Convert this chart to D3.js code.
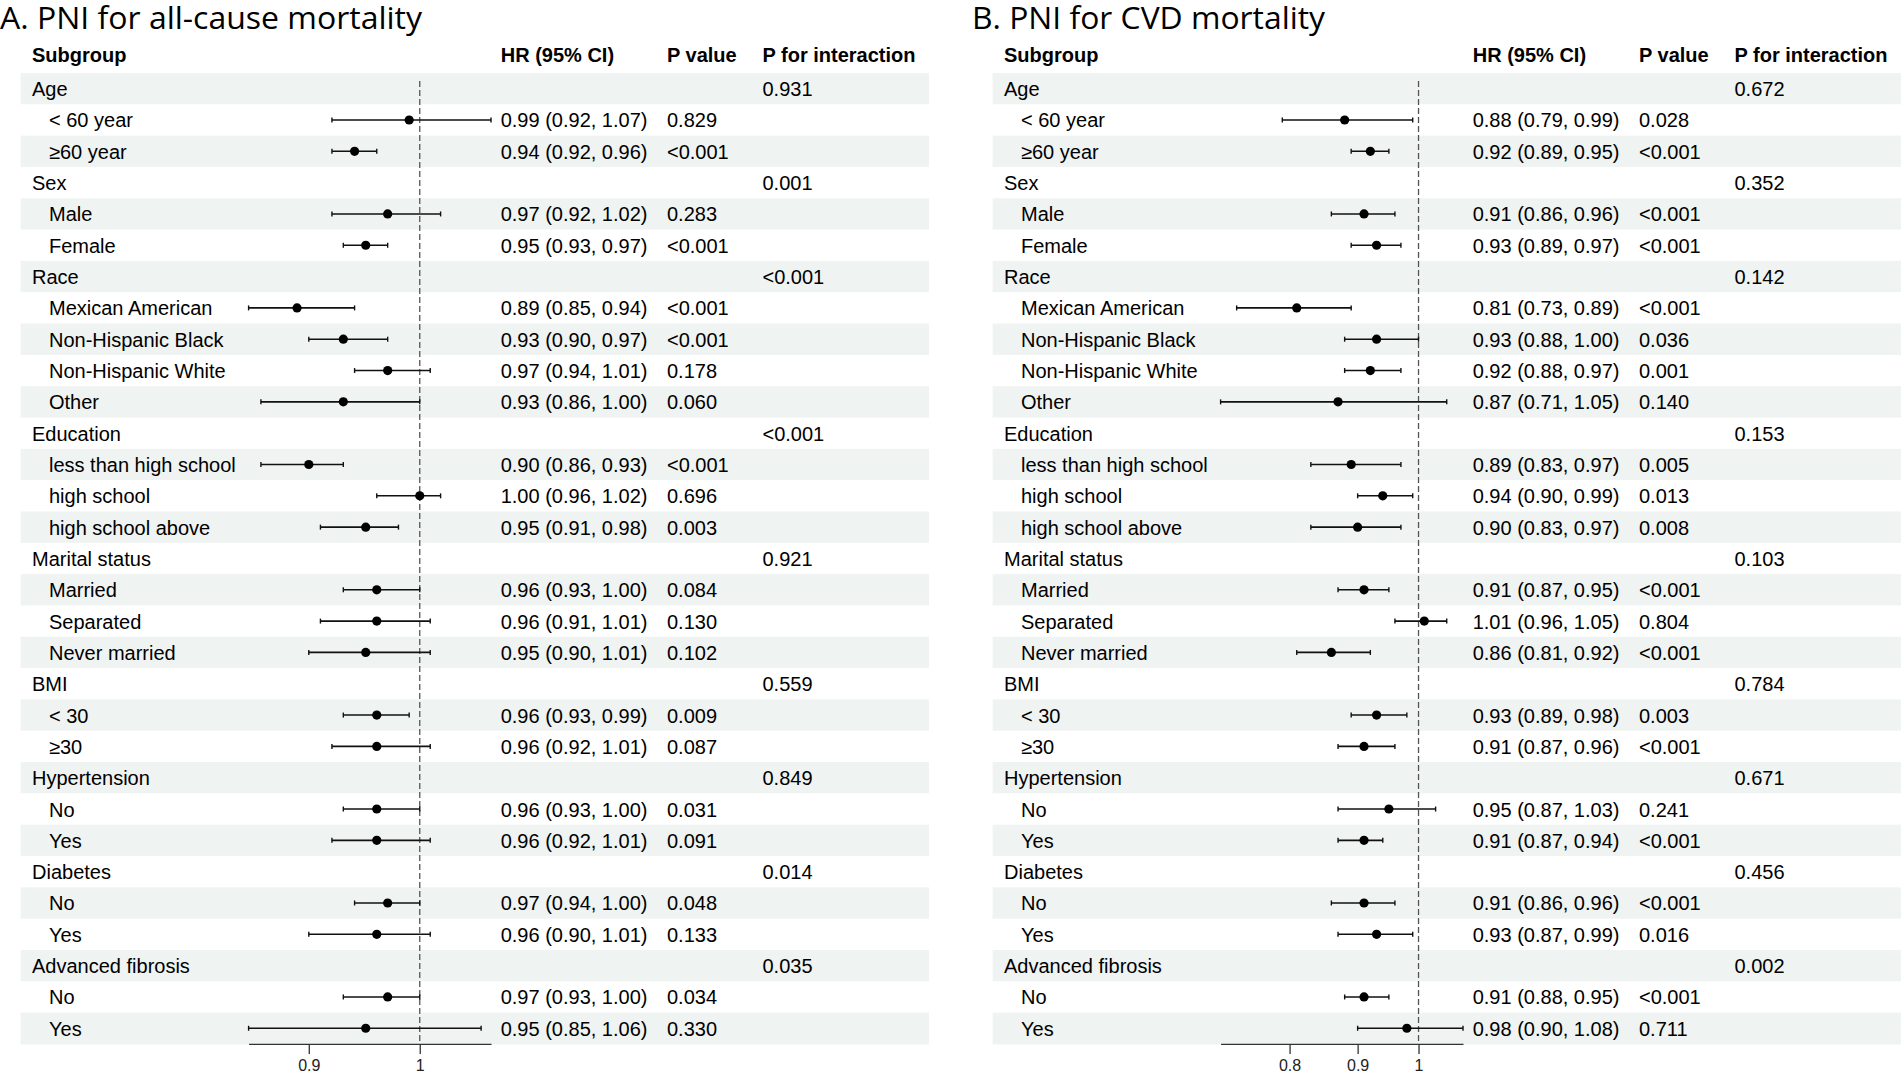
<!DOCTYPE html>
<html>
<head>
<meta charset="utf-8">
<script src="https://cdn.jsdelivr.net/npm/d3@7"></script>
<style>
  html, body { margin: 0; padding: 0; background: #fff; }
  svg { display: block; }
</style>
</head>
<body>
<div id="chart"></div>
<script>
'use strict';

// Row labels, shared by both panels
const subgroups = ['Age', '< 60 year', '≥60 year', 'Sex', 'Male', 'Female', 'Race', 'Mexican American',
  'Non-Hispanic Black', 'Non-Hispanic White', 'Other', 'Education', 'less than high school', 'high school',
  'high school above', 'Marital status', 'Married', 'Separated', 'Never married', 'BMI', '< 30', '≥30',
  'Hypertension', 'No', 'Yes', 'Diabetes', 'No', 'Yes', 'Advanced fibrosis', 'No', 'Yes'];

// A. all-cause mortality (null = group row)
const hrAll    = [null, 0.99, 0.94, null, 0.97, 0.95, null, 0.89, 0.93, 0.97, 0.93, null, 0.90, 1.00, 0.95, null, 0.96, 0.96, 0.95, null, 0.96, 0.96, null, 0.96, 0.96, null, 0.97, 0.96, null, 0.97, 0.95];
const lowerAll = [null, 0.92, 0.92, null, 0.92, 0.93, null, 0.85, 0.90, 0.94, 0.86, null, 0.86, 0.96, 0.91, null, 0.93, 0.91, 0.90, null, 0.93, 0.92, null, 0.93, 0.92, null, 0.94, 0.90, null, 0.93, 0.85];
const upperAll = [null, 1.07, 0.96, null, 1.02, 0.97, null, 0.94, 0.97, 1.01, 1.00, null, 0.93, 1.02, 0.98, null, 1.00, 1.01, 1.01, null, 0.99, 1.01, null, 1.00, 1.01, null, 1.00, 1.01, null, 1.00, 1.06];
const pAll     = ['', '0.829', '<0.001', '', '0.283', '<0.001', '', '<0.001', '<0.001', '0.178', '0.060', '', '<0.001', '0.696', '0.003', '', '0.084', '0.130', '0.102', '', '0.009', '0.087', '', '0.031', '0.091', '', '0.048', '0.133', '', '0.034', '0.330'];
const pIntAll  = ['0.931', '', '', '0.001', '', '', '<0.001', '', '', '', '', '<0.001', '', '', '', '0.921', '', '', '', '0.559', '', '', '0.849', '', '', '0.014', '', '', '0.035', '', ''];
const ticksAll = [0.9, 1];
const tickLabelsAll = ['0.9', '1'];

// B. CVD mortality
const hrCvd    = [null, 0.88, 0.92, null, 0.91, 0.93, null, 0.81, 0.93, 0.92, 0.87, null, 0.89, 0.94, 0.90, null, 0.91, 1.01, 0.86, null, 0.93, 0.91, null, 0.95, 0.91, null, 0.91, 0.93, null, 0.91, 0.98];
const lowerCvd = [null, 0.79, 0.89, null, 0.86, 0.89, null, 0.73, 0.88, 0.88, 0.71, null, 0.83, 0.90, 0.83, null, 0.87, 0.96, 0.81, null, 0.89, 0.87, null, 0.87, 0.87, null, 0.86, 0.87, null, 0.88, 0.90];
const upperCvd = [null, 0.99, 0.95, null, 0.96, 0.97, null, 0.89, 1.00, 0.97, 1.05, null, 0.97, 0.99, 0.97, null, 0.95, 1.05, 0.92, null, 0.98, 0.96, null, 1.03, 0.94, null, 0.96, 0.99, null, 0.95, 1.08];
const pCvd     = ['', '0.028', '<0.001', '', '<0.001', '<0.001', '', '<0.001', '0.036', '0.001', '0.140', '', '0.005', '0.013', '0.008', '', '<0.001', '0.804', '<0.001', '', '0.003', '<0.001', '', '0.241', '<0.001', '', '<0.001', '0.016', '', '<0.001', '0.711'];
const pIntCvd  = ['0.672', '', '', '0.352', '', '', '0.142', '', '', '', '', '0.153', '', '', '', '0.103', '', '', '', '0.784', '', '', '0.671', '', '', '0.456', '', '', '0.002', '', ''];
const ticksCvd = [0.8, 0.9, 1];
const tickLabelsCvd = ['0.8', '0.9', '1'];

const headers = ['Subgroup', 'HR (95% CI)', 'P value', 'P for interaction'];

const panels = [
  { title: 'A. PNI for all-cause mortality', titleWidth: 422, dx: 0,
    hr: hrAll, lower: lowerAll, upper: upperAll, p: pAll, pInt: pIntAll, ticks: ticksAll, tickLabels: tickLabelsAll },
  { title: 'B. PNI for CVD mortality', titleWidth: 353, dx: 972,
    hr: hrCvd, lower: lowerCvd, upper: upperCvd, p: pCvd, pInt: pIntCvd, ticks: ticksCvd, tickLabels: tickLabelsCvd }
];

// layout
const W = 1904, H = 1074;
const rowTop = 73, rowH = 31.32;
const col = { band0: 20.6, band1: 929, group: 32, sub: 49, plot0: 248.6, plot1: 491, hr: 500.7, p: 667, pInt: 762.5 };
const bodyFont = '"Liberation Sans", Arial, Helvetica, sans-serif';
const fmt = d3.format('.2f');

const svg = d3.select('#chart').append('svg')
  .attr('width', W)
  .attr('height', H)
  .attr('viewBox', `0 0 ${W} ${H}`)
  .style('font-family', bodyFont);

svg.append('rect').attr('width', W).attr('height', H).attr('fill', '#fff');

const y = d3.scaleBand()
  .domain(d3.range(subgroups.length))
  .range([rowTop, rowTop + rowH * subgroups.length]);
const yBottom = y.range()[1];

panels.forEach(panel => {
  const g = svg.append('g').attr('transform', `translate(${panel.dx},0)`);
  const rows = subgroups.map((label, i) => ({
    i, label, hr: panel.hr[i], lo: panel.lower[i], hi: panel.upper[i], p: panel.p[i], pInt: panel.pInt[i]
  }));
  const isGroup = d => d.hr === null;

  const x = d3.scaleLog()
    .domain([d3.min(panel.lower.filter(v => v !== null)), d3.max(panel.upper.filter(v => v !== null))])
    .range([col.plot0, col.plot1]);

  // title
  g.append('text')
    .attr('x', 0).attr('y', 29)
    .attr('textLength', panel.titleWidth)
    .attr('lengthAdjust', 'spacingAndGlyphs')
    .style('font-family', '"Open Sans", "Noto Sans", sans-serif')
    .style('font-size', '31.5px')
    .text(panel.title);

  // header row
  g.selectAll('.hdr').data(headers).enter().append('text')
    .attr('class', 'hdr')
    .attr('x', (d, i) => [col.group, col.hr, col.p, col.pInt][i])
    .attr('y', 62)
    .style('font-size', '20px')
    .style('font-weight', 'bold')
    .text(d => d);

  // zebra bands
  g.selectAll('.band').data(rows).enter().append('rect')
    .attr('class', 'band')
    .attr('x', col.band0)
    .attr('width', col.band1 - col.band0)
    .attr('y', d => y(d.i))
    .attr('height', y.bandwidth() + 0.5)
    .attr('fill', d => d.i % 2 === 0 ? '#eff3f2' : '#fff');

  // text columns
  const txt = g.selectAll('.row').data(rows).enter().append('g')
    .attr('class', 'row')
    .attr('transform', d => `translate(0,${y(d.i) + y.bandwidth() / 2 + 7.5})`)
    .style('font-size', '20px');

  txt.append('text')
    .attr('x', d => isGroup(d) ? col.group : col.sub)
    .text(d => d.label);
  txt.filter(d => !isGroup(d)).append('text')
    .attr('x', col.hr)
    .text(d => `${fmt(d.hr)} (${fmt(d.lo)}, ${fmt(d.hi)})`);
  txt.append('text').attr('x', col.p).text(d => d.p);
  txt.append('text').attr('x', col.pInt).text(d => d.pInt);

  // reference line at HR = 1
  g.append('line')
    .attr('x1', x(1)).attr('x2', x(1))
    .attr('y1', 81).attr('y2', yBottom)
    .attr('stroke', '#555')
    .attr('stroke-width', 1.3)
    .attr('stroke-dasharray', '6,3');

  // CIs and point estimates
  const est = g.selectAll('.est').data(rows.filter(d => !isGroup(d))).enter().append('g')
    .attr('class', 'est')
    .attr('transform', d => `translate(0,${y(d.i) + y.bandwidth() / 2})`);

  est.append('line')
    .attr('x1', d => x(d.lo)).attr('x2', d => x(d.hi))
    .attr('stroke', '#111').attr('stroke-width', 1.6);
  est.selectAll('.cap').data(d => [d.lo, d.hi]).enter().append('line')
    .attr('class', 'cap')
    .attr('x1', v => x(v)).attr('x2', v => x(v))
    .attr('y1', -2.5).attr('y2', 2.5)
    .attr('stroke', '#111').attr('stroke-width', 1.4);
  est.append('circle')
    .attr('cx', d => x(d.hr))
    .attr('r', 4.6)
    .attr('fill', '#000');

  // axis
  const axis = g.append('g')
    .attr('transform', `translate(0,${yBottom})`)
    .call(d3.axisBottom(x)
      .tickValues(panel.ticks)
      .tickFormat((d, i) => panel.tickLabels[i])
      .tickSize(10)
      .tickSizeOuter(0)
      .tickPadding(6));
  axis.select('.domain').attr('stroke', '#333').attr('stroke-width', 1.3);
  axis.selectAll('.tick line').attr('stroke', '#333').attr('stroke-width', 1.3);
  axis.selectAll('.tick text')
    .attr('fill', '#222')
    .style('font-family', bodyFont)
    .style('font-size', '16px');
});
</script>
</body>
</html>
